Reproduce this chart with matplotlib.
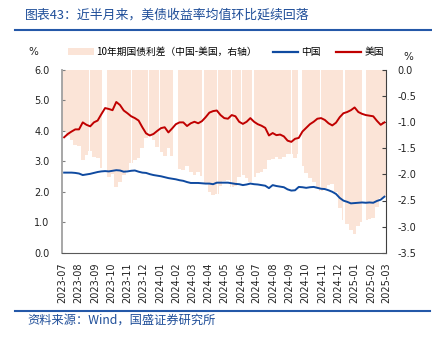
import matplotlib
matplotlib.use("Agg")
import matplotlib.pyplot as plt
import matplotlib.dates as mdates
from matplotlib.lines import Line2D
from matplotlib.patches import Patch
import numpy as np
import pandas as pd

plt.rcParams['font.family'] = ['DejaVu Sans', 'Noto Sans CJK SC']
CJK = ['Noto Sans CJK SC', 'DejaVu Sans']

# ---------------- data ----------------
dates = pd.date_range('2023-07-05', periods=87, freq='7D')

us_10y = [3.79, 3.90, 3.98, 4.05, 4.05, 4.28, 4.20, 4.15, 4.28, 4.34,
          4.55, 4.75, 4.72, 4.68, 4.95, 4.85, 4.67, 4.58, 4.48, 4.42,
          4.34, 4.12, 3.92, 3.85, 3.90, 4.00, 4.09, 4.12, 3.95, 4.08,
          4.22, 4.28, 4.28, 4.16, 4.25, 4.30, 4.25, 4.32, 4.45, 4.60,
          4.65, 4.67, 4.52, 4.42, 4.40, 4.52, 4.48, 4.30, 4.23, 4.30,
          4.42, 4.30, 4.22, 4.17, 4.10, 3.85, 3.93, 3.86, 3.88, 3.82,
          3.68, 3.64, 3.74, 3.77, 3.98, 4.10, 4.22, 4.30, 4.40, 4.42,
          4.36, 4.25, 4.18, 4.27, 4.45, 4.58, 4.62, 4.68, 4.77, 4.62,
          4.56, 4.52, 4.50, 4.48, 4.33, 4.20, 4.28]

cn_10y = [2.63, 2.63, 2.63, 2.62, 2.60, 2.55, 2.57, 2.59, 2.62, 2.65,
          2.67, 2.68, 2.67, 2.69, 2.71, 2.70, 2.66, 2.67, 2.69, 2.70,
          2.66, 2.63, 2.62, 2.58, 2.55, 2.53, 2.51, 2.48, 2.45, 2.43,
          2.41, 2.38, 2.36, 2.32, 2.29, 2.29, 2.29, 2.28, 2.27, 2.27,
          2.25, 2.30, 2.30, 2.30, 2.30, 2.28, 2.26, 2.25, 2.22, 2.24,
          2.27, 2.25, 2.24, 2.22, 2.20, 2.12, 2.22, 2.19, 2.17, 2.15,
          2.08, 2.04, 2.05, 2.16, 2.15, 2.13, 2.15, 2.16, 2.13, 2.10,
          2.09, 2.05, 2.00, 1.93, 1.80, 1.71, 1.67, 1.62, 1.63, 1.64,
          1.65, 1.64, 1.65, 1.64, 1.70, 1.74, 1.84]

# periods where the spread series has no value (holiday mismatches)
spread_gaps = [('2023-08-21', '2023-08-23'), ('2023-09-15', '2023-09-24'),
               ('2023-11-08', '2023-11-10'), ('2023-12-09', '2023-12-11'),
               ('2023-12-31', '2024-01-02'), ('2024-01-26', '2024-02-04'),
               ('2024-03-21', '2024-03-23'), ('2024-04-18', '2024-04-20'),
               ('2024-05-14', '2024-05-16'), ('2024-06-02', '2024-06-04'),
               ('2024-06-23', '2024-06-25'), ('2024-09-03', '2024-09-05'),
               ('2024-09-16', '2024-09-24'), ('2024-10-28', '2024-10-30'),
               ('2024-12-11', '2024-12-13'), ('2025-01-15', '2025-01-23')]

month_ticks = pd.date_range('2023-07-01', '2025-03-01', freq='MS')
left_ticks = [0, 1, 2, 3, 4, 5, 6]
right_ticks = [-3.5, -3.0, -2.5, -2.0, -1.5, -1.0, -0.5, 0.0]

spread = np.array(cn_10y) - np.array(us_10y)

# ---------------- style ----------------
PINK = '#FBE4D7'
RED = '#C00000'
BLUE = '#0F4AA0'
TITLE_BLUE = '#1F4E99'

fig = plt.figure(figsize=(4.32, 3.39), dpi=100)
W, H = 432, 339
L, R, T, B = 62, 386, 70, 252.7
ax = fig.add_axes([L / W, 1 - B / H, (R - L) / W, (B - T) / H])
ax2 = ax.twinx()

# spread bars on right axis
ax2.bar(dates, spread, width=7, color=PINK, linewidth=0, align='center', zorder=1)
for s, e in spread_gaps:
    ax2.axvspan(pd.Timestamp(s), pd.Timestamp(e), color='white', lw=0, zorder=2)
ax2.set_ylim(-3.5, 0)
ax2.set_yticks(right_ticks)
ax2.set_yticklabels([f'{v:.1f}' for v in right_ticks], fontsize=7)

# lines on left axis (drawn above)
ax.set_zorder(ax2.get_zorder() + 1)
ax.patch.set_visible(False)
ax.plot(dates, cn_10y, color=BLUE, lw=1.4, zorder=3)
ax.plot(dates, us_10y, color=RED, lw=1.4, zorder=3)
ax.set_ylim(0, 6)
ax.set_yticks(left_ticks)
ax.set_yticklabels([f'{v:.1f}' for v in left_ticks], fontsize=7)

ax.set_xlim(pd.Timestamp('2023-07-01'), pd.Timestamp('2025-03-01'))
ax.set_xticks(month_ticks)
ax.set_xticklabels([d.strftime('%Y-%m') for d in month_ticks], rotation=90, fontsize=7)

# spines / ticks
for a in (ax, ax2):
    a.spines['top'].set_visible(False)
ax.spines['left'].set_color('#A0A0A0')
ax.spines['left'].set_linewidth(1.3)
ax.spines['right'].set_visible(False)
ax.spines['bottom'].set_color('#595959')
ax.spines['bottom'].set_linewidth(0.8)
ax2.spines['left'].set_visible(False)
ax2.spines['bottom'].set_visible(False)
ax2.spines['right'].set_color('#404040')
ax2.spines['right'].set_linewidth(0.8)
ax.tick_params(axis='y', direction='in', length=2, width=0.8, color='#808080', pad=9, labelcolor='#222222')
ax.tick_params(axis='x', length=0, pad=7, labelcolor='#222222')
ax2.tick_params(axis='y', direction='in', length=3, width=0.8, color='#404040', pad=8, labelcolor='#222222')

# legend
handles = [Patch(facecolor=PINK, edgecolor='none'),
           Line2D([], [], color=BLUE, lw=1.6),
           Line2D([], [], color=RED, lw=1.6)]
labels = ['10年期国债利差（中国-美国，右轴）', '中国', '美国']
fig.legend(handles, labels, loc='center', bbox_to_anchor=(226 / W, 1 - 52 / H),
           ncol=3, frameon=False, prop={'family': CJK, 'size': 7},
           handlelength=2.6, handleheight=0.7, handletextpad=0.3, columnspacing=1.6)

# unit labels
fig.text(33 / W, 1 - 52 / H, '%', ha='center', va='center', fontsize=7.5, color='#222222')
fig.text(408 / W, 1 - 57 / H, '%', ha='center', va='center', fontsize=7.5, color='#222222')

# title and source
fig.text(25 / W, 1 - 15 / H, '图表43：近半月来，美债收益率均值环比延续回落', ha='left', va='center',
         fontsize=9.3, color=TITLE_BLUE, family=CJK, style='italic')
fig.add_artist(Line2D([15 / W, 1.0], [1 - 29.5 / H, 1 - 29.5 / H], transform=fig.transFigure,
                      color='#2458A8', lw=1.5))
fig.add_artist(Line2D([15 / W, 430 / W], [1 - 310.5 / H, 1 - 310.5 / H], transform=fig.transFigure,
                      color='#2458A8', lw=1.5))
fig.text(27 / W, 1 - 320 / H, '资料来源：Wind，国盛证券研究所', ha='left', va='center',
         fontsize=8.8, color=TITLE_BLUE, family=CJK, style='italic')

fig.savefig('out.png', dpi=100)
